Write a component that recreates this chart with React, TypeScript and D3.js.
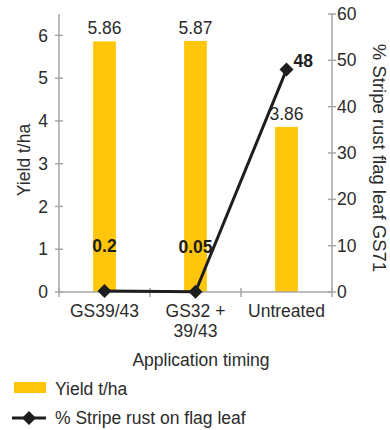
import React from "react";
import * as d3 from "d3";

const categories = ["GS39/43", "GS32 +\n39/43", "Untreated"];
const yieldValues = [5.86, 5.87, 3.86];
const rustValues = [0.2, 0.05, 48];
const rustLabels = ["0.2", "0.05", "48"];
const leftTicks = [0, 1, 2, 3, 4, 5, 6];
const rightTicks = [0, 10, 20, 30, 40, 50, 60];

const W = 390;
const H = 430;
const FONT = "'Liberation Sans', Arial, Helvetica, sans-serif";
const TEXT = "#2b2b2b";
const AXIS = "#a6a6a6";
const BAR = "#FFC60B";
const FS = 17.5;

export default function App() {
  const left = 59;
  const right = 332;
  const top = 14;
  const bottom = 292;
  const x = d3.scaleBand<string>().domain(categories).range([left, right]).paddingInner(0).paddingOuter(0);
  const yL = d3.scaleLinear().domain([0, 6.5]).range([bottom, top]);
  const yR = d3.scaleLinear().domain([0, 60]).range([bottom, top]);
  const bw = x.bandwidth() * 0.25;
  const cx = (c: string) => (x(c) as number) + x.bandwidth() / 2;
  const line = d3
    .line<number>()
    .x((_, i) => cx(categories[i]))
    .y((d) => yR(d));
  const diamond = (px: number, py: number, r: number) =>
    `M${px},${py - r}L${px + r},${py}L${px},${py + r}L${px - r},${py}Z`;
  const boundaries = [left, ...categories.map((c) => (x(c) as number) + x.bandwidth())];

  return (
    <svg
      width={W}
      height={H}
      style={{ position: "absolute", left: 0, top: 0, background: "#fff" }}
      fontFamily={FONT}
    >
      {/* bars */}
      {categories.map((c, i) => (
        <rect
          key={c}
          x={cx(c) - bw / 2}
          y={yL(yieldValues[i])}
          width={bw}
          height={bottom - yL(yieldValues[i])}
          fill={BAR}
        />
      ))}
      {/* bar labels */}
      {categories.map((c, i) => (
        <text
          key={"bl" + c}
          x={cx(c)}
          y={yL(yieldValues[i]) - 7}
          textAnchor="middle"
          fontSize={FS}
          fill={TEXT}
        >
          {yieldValues[i].toFixed(2)}
        </text>
      ))}
      {/* left axis */}
      <line x1={left} x2={left} y1={top} y2={bottom} stroke={AXIS} strokeWidth={1.5} />
      {leftTicks.map((t) => (
        <g key={"lt" + t}>
          <line x1={left - 4} x2={left + 4} y1={yL(t)} y2={yL(t)} stroke={AXIS} strokeWidth={1.5} />
          <text x={left - 11} y={yL(t)} dy="0.35em" textAnchor="end" fontSize={FS} fill={TEXT}>
            {t}
          </text>
        </g>
      ))}
      {/* right axis */}
      <line x1={right} x2={right} y1={top} y2={bottom} stroke={AXIS} strokeWidth={1.5} />
      {rightTicks.map((t) => (
        <g key={"rt" + t}>
          <line x1={right - 4} x2={right + 4} y1={yR(t)} y2={yR(t)} stroke={AXIS} strokeWidth={1.5} />
          <text x={right + 5} y={yR(t)} dy="0.35em" textAnchor="start" fontSize={FS} fill={TEXT}>
            {t}
          </text>
        </g>
      ))}
      {/* x axis */}
      <line x1={left} x2={right} y1={bottom} y2={bottom} stroke={AXIS} strokeWidth={1.5} />
      {boundaries.map((b, i) => (
        <line key={"xb" + i} x1={b} x2={b} y1={bottom - 4} y2={bottom + 5} stroke={AXIS} strokeWidth={1.5} />
      ))}
      {categories.map((c) => (
        <text key={"xl" + c} x={cx(c)} y={317} textAnchor="middle" fontSize={FS} fill={TEXT}>
          {c.split("\n").map((s, j) => (
            <tspan key={j} x={cx(c)} dy={j === 0 ? 0 : 19.5}>
              {s}
            </tspan>
          ))}
        </text>
      ))}
      {/* axis titles */}
      <text x={201} y={366} textAnchor="middle" fontSize={FS} fill={TEXT}>
        Application timing
      </text>
      <text
        transform={`translate(30,160) rotate(-90)`}
        textAnchor="middle"
        fontSize={FS}
        fill={TEXT}
      >
        Yield t/ha
      </text>
      <text
        transform={`translate(373,158) rotate(90)`}
        textAnchor="middle"
        fontSize={18.5}
        fill={TEXT}
      >
        % Stripe rust flag leaf GS71
      </text>
      {/* line series */}
      <path d={line(rustValues) || ""} fill="none" stroke="#1e1e1e" strokeWidth={3} />
      {rustValues.map((v, i) => (
        <path key={"m" + i} d={diamond(cx(categories[i]), yR(v), 7)} fill="#1e1e1e" />
      ))}
      {rustValues.map((v, i) =>
        i < 2 ? (
          <text
            key={"rl" + i}
            x={cx(categories[i])}
            y={yR(v) - 39}
            textAnchor="middle"
            fontSize={FS}
            fontWeight="bold"
            fill="#1e1e1e"
          >
            {rustLabels[i]}
          </text>
        ) : (
          <text
            key={"rl" + i}
            x={cx(categories[i]) + 7}
            y={yR(v) - 3}
            textAnchor="start"
            fontSize={FS}
            fontWeight="bold"
            fill="#1e1e1e"
          >
            {rustLabels[i]}
          </text>
        )
      )}
      {/* legend */}
      <rect x={14} y={382} width={32} height={11} fill={BAR} />
      <text x={55} y={389} dy="0.35em" fontSize={FS} fill={TEXT}>
        Yield t/ha
      </text>
      <line x1={12} x2={46} y1={418} y2={418} stroke="#1e1e1e" strokeWidth={3} />
      <path d={diamond(29, 418, 7)} fill="#1e1e1e" />
      <text x={55} y={418} dy="0.35em" fontSize={FS} fill={TEXT}>
        % Stripe rust on flag leaf
      </text>
    </svg>
  );
}
